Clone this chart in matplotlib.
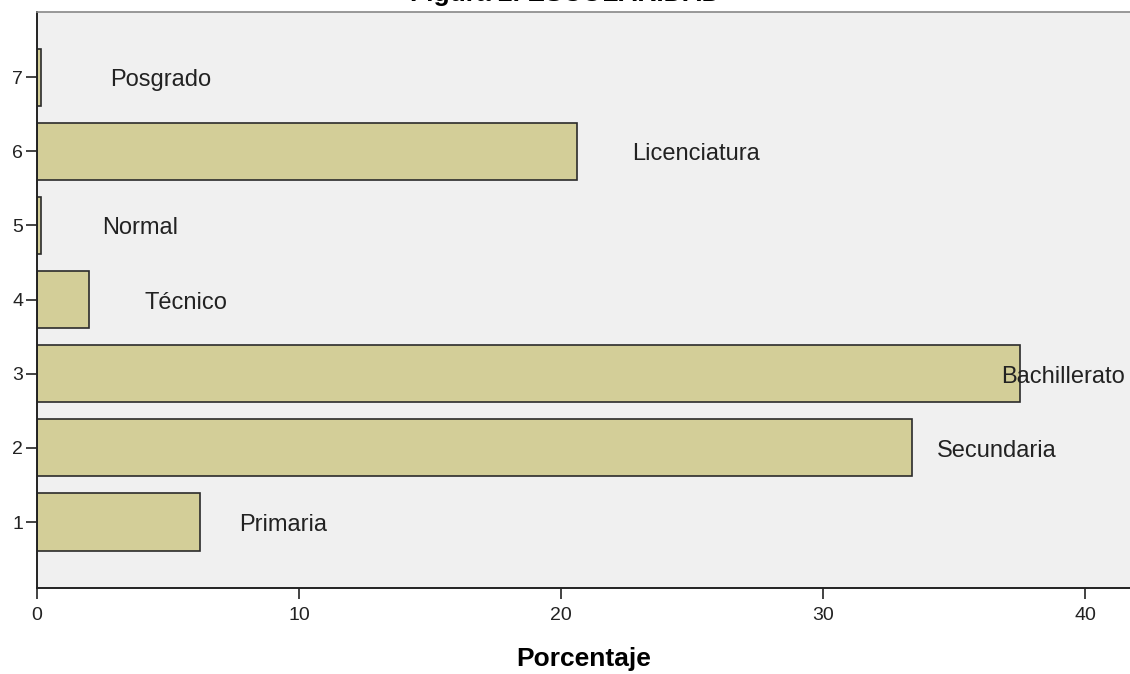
import numpy as np
import matplotlib.pyplot as plt

# Data
codes = [1, 2, 3, 4, 5, 6, 7]
niveles = ['Primaria', 'Secundaria', 'Bachillerato', 'Técnico', 'Normal', 'Licenciatura', 'Posgrado']
porcentaje = [6.2, 33.4, 37.5, 2.0, 0.15, 20.6, 0.15]
label_x = [7.7, 34.35, 36.8, 4.1, 2.5, 22.7, 2.8]

plt.rcParams['font.family'] = ['Liberation Sans', 'DejaVu Sans']

fig = plt.figure(figsize=(11.3, 6.74), dpi=100)
ax = fig.add_axes([37 / 1130, 1 - 588 / 674, 1 - 37 / 1130, (588 - 12) / 674])
ax.set_facecolor('#f0f0f0')

ax.barh(codes, porcentaje, height=0.77, color='#d3ce98', edgecolor='#2b2b2b', linewidth=1.2)

for y, x, name in zip(codes, label_x, niveles):
    ax.text(x, y - 0.04, name, fontsize=17, color='#222222', ha='left', va='center')

ax.set_xlim(0, 41.7)
ax.set_ylim(0.11, 7.88)
ax.set_xticks([0, 10, 20, 30, 40])
ax.set_yticks(codes)
ax.tick_params(axis='both', labelsize=14, colors='#222222', length=8, width=1.2,
               direction='out')
ax.tick_params(axis='x', pad=6)
ax.tick_params(axis='y', pad=2)

for s in ['left', 'bottom']:
    ax.spines[s].set_color('#222222')
    ax.spines[s].set_linewidth(1.4)
ax.spines['right'].set_visible(False)
ax.spines['top'].set_color('#888888')
ax.spines['top'].set_linewidth(1.2)

ax.set_xlabel('Porcentaje', fontsize=19, fontweight='bold', labelpad=16)
fig.text(0.5, 1.0 - 0.5 / 674, 'Figura 2. ESCOLARIDAD', fontsize=19, fontweight='bold',
         ha='center', va='baseline')

plt.savefig('out.png', dpi=100)
